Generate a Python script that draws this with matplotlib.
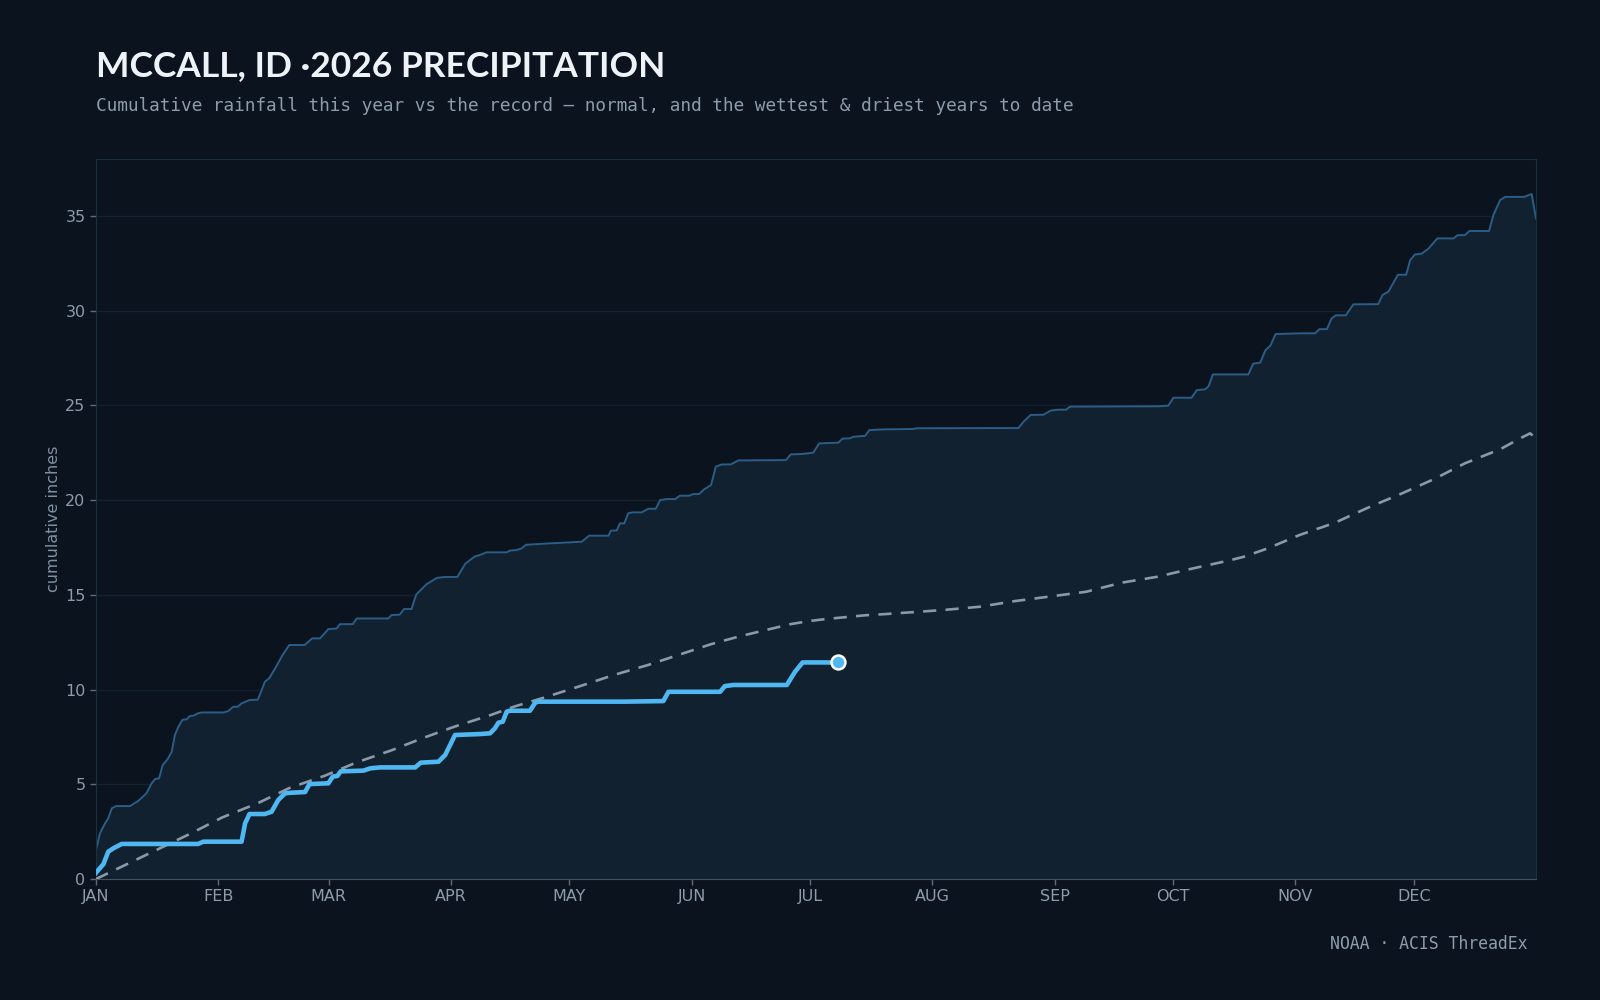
import matplotlib
matplotlib.use('Agg')
import matplotlib.pyplot as plt

# colours
bg = '#0b141e'
fill_col = '#12212f'
wet_col = '#2b5d86'
year_col = '#4fb8f2'
norm_col = '#8a99a7'
txt_col = '#8d9bab'
grid_col = '#14222f'

# month ticks (day of year)
month_days = [0, 31, 59, 90, 120, 151, 181, 212, 243, 273, 304, 334]
month_lbls = ['JAN', 'FEB', 'MAR', 'APR', 'MAY', 'JUN',
              'JUL', 'AUG', 'SEP', 'OCT', 'NOV', 'DEC']

# wettest year to date (record envelope)
wet_day = [0, 1, 2.3, 3.1, 4, 5.1, 8.6, 10.7, 12.8, 14.1, 15, 16, 16.9, 18.1, 19.2,
           20, 20.9, 21.9, 23, 23.8, 24.7, 25.9, 26.8, 32.3, 33.5, 34.8, 35.9, 36.9,
           39, 41, 42, 42.8, 43.9, 45.4, 47.3, 49, 52.9, 54.8, 56.8, 58.9, 61, 61.8,
           65.1, 66.1, 74.1, 74.9, 77, 78.1, 80, 80.7, 81.2, 83.8, 86.4, 88.5, 91.6,
           93.6, 96, 97.3, 99, 104.1, 104.9, 106.6, 107.9, 109, 114.7, 123.1, 125,
           129.9, 130.5, 132, 132.8, 133.9, 134.9, 136, 138.3, 140, 141.9, 143, 144.7,
           146.8, 148, 150.4, 151.4, 152.9, 154.1, 155.9, 157.1, 158.6, 160.9, 162.8,
           174.9, 176.1, 178.9, 181.8, 183.3, 188.2, 189.2, 191.1, 192, 195, 196,
           199.6, 207.2, 208, 233.8, 235.1, 236.9, 240.1, 242, 243.9, 245.9, 246.9,
           269.3, 271.8, 273.1, 277.7, 279, 281.1, 282, 283.1, 292.1, 293.3, 295.1,
           296.4, 297.7, 299, 305.2, 309, 310.1, 312, 313.2, 314.3, 316.8, 318.7, 325,
           326.1, 327.6, 330, 332.1, 333.1, 334.3, 336, 337.7, 340, 344.1, 345.1, 347,
           348.1, 353.1, 354.2, 355.9, 357.2, 362, 363.9, 365]
wet_val = [1.53, 2.41, 2.94, 3.2, 3.73, 3.85, 3.85, 4.12, 4.52, 5.05, 5.28, 5.31, 6.02,
           6.31, 6.72, 7.6, 8.04, 8.4, 8.43, 8.6, 8.62, 8.75, 8.79, 8.79, 8.86, 9.09,
           9.09, 9.27, 9.45, 9.46, 9.97, 10.41, 10.59, 11.11, 11.82, 12.35, 12.35, 12.7,
           12.7, 13.19, 13.22, 13.45, 13.45, 13.75, 13.75, 13.93, 13.95, 14.25, 14.25,
           14.72, 15.02, 15.56, 15.89, 15.94, 15.94, 16.64, 17.02, 17.1, 17.24, 17.24,
           17.33, 17.36, 17.45, 17.64, 17.71, 17.8, 18.12, 18.12, 18.38, 18.4, 18.77,
           18.77, 19.3, 19.35, 19.35, 19.54, 19.54, 20.0, 20.05, 20.05, 20.23, 20.23,
           20.32, 20.32, 20.56, 20.79, 21.76, 21.88, 21.88, 22.09, 22.11, 22.41, 22.43,
           22.5, 22.99, 23.03, 23.24, 23.26, 23.34, 23.39, 23.69, 23.73, 23.75, 23.79,
           23.8, 24.13, 24.49, 24.5, 24.72, 24.77, 24.77, 24.93, 24.95, 24.98, 25.4,
           25.4, 25.8, 25.84, 26.0, 26.63, 26.63, 27.2, 27.25, 27.9, 28.16, 28.76,
           28.8, 28.8, 29.02, 29.02, 29.59, 29.75, 29.75, 30.33, 30.34, 30.82, 31.0,
           31.89, 31.89, 32.66, 32.96, 33.0, 33.26, 33.81, 33.81, 33.98, 33.98, 34.2,
           34.2, 35.04, 35.83, 36.0, 36.0, 36.15, 34.86]

# normal (average) cumulative
norm_day = [0, 15, 24, 32, 41, 49, 58, 66, 75, 83, 91, 100, 106, 114, 123, 131, 140,
            148, 156, 163, 167, 172, 176, 181, 185, 190, 195, 200, 215, 224, 233, 251,
            260, 269, 278, 287, 291, 297, 305, 314, 322, 331, 339, 347, 356, 361,
            363.5, 365]
norm_val = [0.0, 1.5, 2.4, 3.25, 4.0, 4.8, 5.45, 6.15, 6.8, 7.45, 8.05, 8.65, 9.1, 9.6,
            10.2, 10.75, 11.3, 11.85, 12.4, 12.8, 13.0, 13.25, 13.45, 13.62, 13.72,
            13.82, 13.92, 13.98, 14.2, 14.37, 14.67, 15.16, 15.64, 15.95, 16.39, 16.8,
            17.01, 17.45, 18.15, 18.8, 19.56, 20.35, 21.09, 21.94, 22.69, 23.26, 23.52,
            23.26]

# 2026 so far
yr_day = [0, 1.9, 3.1, 4.4, 6.5, 25.9, 27.2, 36.9, 37.8, 38.9, 42.8, 44.5, 46.2, 47.9,
          49.2, 53, 54.1, 58.9, 60, 61.2, 62, 67.8, 69.5, 72, 80.9, 82.3, 86.8, 88.5,
          91, 97.3, 99.9, 101.1, 102, 103.1, 104.1, 104.9, 110, 111.3, 112.1, 133.7,
          143.8, 145.1, 158.2, 159.4, 161.5, 175.1, 177.2, 179.1, 188]
yr_val = [0.33, 0.79, 1.44, 1.62, 1.85, 1.85, 1.97, 1.97, 2.94, 3.43, 3.43, 3.55, 4.17,
          4.52, 4.55, 4.59, 5.01, 5.05, 5.4, 5.44, 5.68, 5.72, 5.84, 5.89, 5.89, 6.14,
          6.19, 6.54, 7.6, 7.65, 7.69, 7.95, 8.25, 8.3, 8.83, 8.88, 8.88, 9.3, 9.36,
          9.36, 9.39, 9.88, 9.88, 10.18, 10.24, 10.24, 10.94, 11.43, 11.43]


fig = plt.figure(figsize=(16, 10), dpi=100, facecolor=bg)
ax = fig.add_axes([0.06, 0.121, 0.90, 0.720], facecolor=bg)

ax.fill_between(wet_day, 0, wet_val, color=fill_col, lw=0, zorder=1)
ax.plot(wet_day, wet_val, color=wet_col, lw=1.4, zorder=2)
ax.plot(norm_day, norm_val, color=norm_col, lw=1.9, dashes=(5, 3.5), zorder=3)
ax.plot(yr_day, yr_val, color=year_col, lw=3.3, solid_joinstyle='round', zorder=4)
ax.plot(yr_day[-1], yr_val[-1], 'o', ms=10, mfc=year_col, mec='white', mew=1.8, zorder=5)

ax.set_xlim(0, 365)
ax.set_ylim(0, 38)
ax.set_xticks(month_days)
ax.set_xticklabels(month_lbls)
ax.set_yticks([0, 5, 10, 15, 20, 25, 30, 35])

ax.set_axisbelow(True)
ax.yaxis.grid(True, color=grid_col, lw=1)
ax.tick_params(colors='#5d6b7a', labelcolor=txt_col, labelsize=11.5, length=4, width=1)

for s in ['left', 'top', 'right']:
    ax.spines[s].set_color('#1c3042')
ax.spines['bottom'].set_color('#46535f')

ax.set_ylabel('cumulative inches', color='#7f90a2', fontsize=11.5, labelpad=3)

fig.text(0.06, 0.924, 'MCCALL, ID \u00b72026 PRECIPITATION', color='#eef3f8',
         fontsize=25.5, fontweight='bold', family='Lato', va='baseline')
fig.text(0.06, 0.894, 'Cumulative rainfall this year vs the record \u2014 normal, and the wettest & driest years to date',
         color=txt_col, fontsize=12.8, family='DejaVu Sans Mono', va='center')
fig.text(0.955, 0.056, 'NOAA \u00b7 ACIS ThreadEx', color=txt_col, fontsize=11.9,
         family='DejaVu Sans Mono', ha='right', va='center')

fig.savefig('out.png', dpi=100, facecolor=bg)
